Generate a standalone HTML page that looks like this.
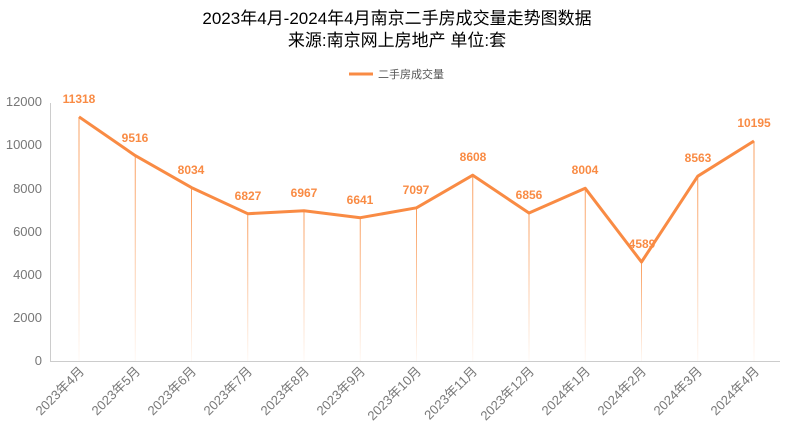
<!DOCTYPE html>
<html><head><meta charset="utf-8"><style>
body{margin:0;background:#fff;}
svg text{font-family:"Liberation Sans","Noto Sans CJK SC",sans-serif;}
</style></head><body>
<svg width="794" height="440" viewBox="0 0 794 440" xmlns="http://www.w3.org/2000/svg">
<defs>
<linearGradient id="g" x1="0" y1="0" x2="0" y2="1">
<stop offset="0" stop-color="#f9924a" stop-opacity="0.9"/>
<stop offset="1" stop-color="#f9924a" stop-opacity="0.05"/>
</linearGradient>
</defs>
<text x="397" y="24" text-anchor="middle" font-size="17" fill="#000">2023年4月-2024年4月南京二手房成交量走势图数据</text>
<text x="397" y="46" text-anchor="middle" font-size="17" fill="#000">来源:南京网上房地产 单位:套</text>
<line x1="349" y1="74" x2="373" y2="74" stroke="#f98b44" stroke-width="3"/>
<text x="378" y="78" font-size="11" fill="#555">二手房成交量</text>
<line x1="50.5" y1="103" x2="50.5" y2="361" stroke="#ccc"/>
<line x1="50" y1="361.5" x2="780" y2="361.5" stroke="#ccc"/>
<g font-size="13" fill="#777" text-anchor="end">
<text x="42" y="106">12000</text><text x="42" y="149">10000</text><text x="42" y="193">8000</text>
<text x="42" y="236">6000</text><text x="42" y="279">4000</text><text x="42" y="322">2000</text><text x="42" y="365">0</text>
</g>
<g>
<rect x="78.5" y="117" width="1" height="244" fill="url(#g)"/>
<rect x="134.75" y="156" width="1" height="205" fill="url(#g)"/>
<rect x="191" y="188" width="1" height="173" fill="url(#g)"/>
<rect x="247.25" y="214" width="1" height="147" fill="url(#g)"/>
<rect x="303.5" y="211" width="1" height="150" fill="url(#g)"/>
<rect x="359.75" y="218" width="1" height="143" fill="url(#g)"/>
<rect x="416" y="208" width="1" height="153" fill="url(#g)"/>
<rect x="472.25" y="175" width="1" height="186" fill="url(#g)"/>
<rect x="528.5" y="213" width="1" height="148" fill="url(#g)"/>
<rect x="584.75" y="188" width="1" height="173" fill="url(#g)"/>
<rect x="641" y="262" width="1" height="99" fill="url(#g)"/>
<rect x="697.25" y="176" width="1" height="185" fill="url(#g)"/>
<rect x="753.5" y="141" width="1" height="220" fill="url(#g)"/>
</g>
<polyline fill="none" stroke="#f98b44" stroke-width="3" stroke-linejoin="round" points="79,116.8 135.25,155.6 191.5,187.6 247.75,213.7 304,210.7 360.25,217.7 416.5,207.8 472.75,175.2 529,213 585.25,188.3 641.5,262 697.75,176.2 754,141"/>
<g font-size="12" font-weight="bold" fill="#f98b44" text-anchor="middle">
<text x="79" y="103">11318</text><text x="135" y="142">9516</text><text x="191" y="174">8034</text>
<text x="248" y="200">6827</text><text x="304" y="197">6967</text><text x="360" y="204">6641</text>
<text x="416" y="194">7097</text><text x="473" y="161">8608</text><text x="529" y="199">6856</text>
<text x="585" y="174">8004</text><text x="642" y="248">4589</text><text x="698" y="162">8563</text>
<text x="754" y="127">10195</text>
</g>
<g font-size="13" fill="#777" text-anchor="end">
<text transform="translate(85,372) rotate(-45)">2023年4月</text>
<text transform="translate(141,372) rotate(-45)">2023年5月</text>
<text transform="translate(197,372) rotate(-45)">2023年6月</text>
<text transform="translate(253,372) rotate(-45)">2023年7月</text>
<text transform="translate(310,372) rotate(-45)">2023年8月</text>
<text transform="translate(366,372) rotate(-45)">2023年9月</text>
<text transform="translate(422,372) rotate(-45)">2023年10月</text>
<text transform="translate(478,372) rotate(-45)">2023年11月</text>
<text transform="translate(535,372) rotate(-45)">2023年12月</text>
<text transform="translate(591,372) rotate(-45)">2024年1月</text>
<text transform="translate(647,372) rotate(-45)">2024年2月</text>
<text transform="translate(703,372) rotate(-45)">2024年3月</text>
<text transform="translate(760,372) rotate(-45)">2024年4月</text>
</g>
</svg>
</body></html>
